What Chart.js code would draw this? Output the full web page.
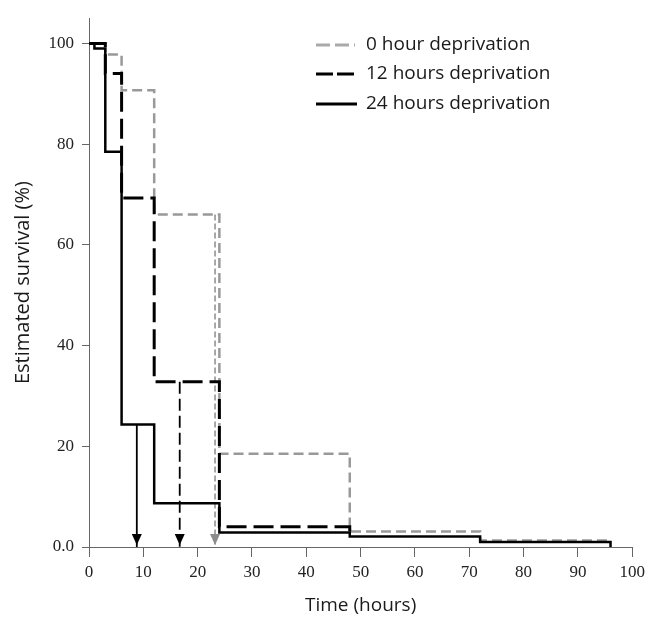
<!DOCTYPE html>
<html>
<head>
<meta charset="utf-8">
<script src="https://cdn.jsdelivr.net/npm/chart.js@4.4.1/dist/chart.umd.min.js"></script>
<style>
  body { margin: 0; background: #fff; }
  #wrap { width: 650px; height: 617px; }
</style>
</head>
<body>
<div id="wrap"><canvas id="survival" width="650" height="617"></canvas></div>
<script>
// Kaplan-Meier steps: time (hours) and estimated survival (%)
const labels = ['0 hour deprivation', '12 hours deprivation', '24 hours deprivation'];
const time0 = [0, 3, 6, 12, 24, 48, 72, 96];
const surv0 = [100, 97.8, 90.7, 66, 18.5, 3.1, 1.3, 1.3];
const time12 = [0, 3, 6, 12, 24, 48];
const surv12 = [100, 94, 69.3, 32.8, 4.0, 2.1];
const time24 = [0, 1, 3, 6, 12, 24, 48, 72, 96];
const surv24 = [100, 99, 78.5, 24.3, 8.7, 2.9, 2.1, 1.0, 0];

// median survival arrows
const medianTime = [23.2, 16.7, 8.8];
const medianFrom = [66, 32.8, 24.3];

const xTicks = [0, 10, 20, 30, 40, 50, 60, 70, 80, 90, 100];
const yTicks = [0, 20, 40, 60, 80, 100];

const styles = [
    { color: '#999999', width: 2.5, dash: [10, 5] },
    { color: '#000000', width: 3, dash: [20, 7] },
    { color: '#000000', width: 2.5, dash: [] }
];
const arrowStyles = [
    { color: '#8c8c8c', width: 1.5, dash: [6, 3] },
    { color: '#000000', width: 1.8, dash: [12, 5] },
    { color: '#000000', width: 1.8, dash: [] }
];

const pts = (xs, ys) => xs.map((x, i) => ({ x: x, y: ys[i] }));

const curves = [pts(time0, surv0), pts(time12, surv12), pts(time24, surv24)];

const datasets = curves.map((d, i) => ({
    label: labels[i],
    data: d,
    stepped: 'before',
    borderColor: styles[i].color,
    borderWidth: styles[i].width,
    borderDash: styles[i].dash,
    pointRadius: 0,
    fill: false,
    order: 3 - i
}));

medianTime.forEach((t, i) => {
    datasets.push({
        label: 'arrow',
        isArrow: true,
        data: [{ x: t, y: medianFrom[i] }, { x: t, y: 0 }],
        borderColor: arrowStyles[i].color,
        borderWidth: arrowStyles[i].width,
        borderDash: arrowStyles[i].dash,
        pointRadius: 0,
        fill: false,
        order: 5
    });
});

// arrow heads + legend
const extras = {
    id: 'extras',
    afterDatasetsDraw(chart) {
        const c = chart.ctx;
        chart.data.datasets.forEach((ds, i) => {
            if (!ds.isArrow) return;
            const p = chart.getDatasetMeta(i).data[1];
            const tip = p.y - 2;
            c.save();
            c.fillStyle = ds.borderColor;
            c.beginPath();
            c.moveTo(p.x, tip);
            c.lineTo(p.x - 5, tip - 11);
            c.lineTo(p.x + 5, tip - 11);
            c.closePath();
            c.fill();
            c.restore();
        });

        // legend
        const rows = [45, 74, 104];
        c.save();
        c.font = '19px "Open Sans"';
        c.textBaseline = 'middle';
        c.fillStyle = '#1a1a1a';
        labels.forEach((lab, i) => {
            const st = styles[i];
            c.strokeStyle = i === 0 ? '#aaaaaa' : st.color;
            c.lineWidth = 3;
            c.setLineDash(i === 0 ? [14, 5] : i === 1 ? [17, 4] : []);
            c.beginPath();
            c.moveTo(316, rows[i]);
            c.lineTo(i === 2 ? 357 : 355, rows[i]);
            c.stroke();
            c.fillText(lab, 366, rows[i]);
        });
        c.restore();
    }
};

new Chart(document.getElementById('survival'), {
    type: 'line',
    data: { datasets: datasets },
    options: {
        responsive: false,
        animation: false,
        layout: { padding: { top: 13, right: 14, left: 0, bottom: 0 } },
        plugins: { legend: { display: false }, tooltip: { enabled: false } },
        scales: {
            x: {
                type: 'linear',
                min: 0,
                max: 100,
                afterBuildTicks: s => { s.ticks = xTicks.map(v => ({ value: v })); },
                afterFit: s => { s.height = 70; },
                grid: { drawOnChartArea: false, drawTicks: true, tickLength: 10, color: '#666' },
                border: { display: true, color: '#666', width: 1 },
                ticks: {
                    color: '#222',
                    padding: 5,
                    maxRotation: 0,
                    font: { family: '"Liberation Serif"', size: 17 }
                },
                title: {
                    display: true,
                    text: 'Time (hours)',
                    color: '#1a1a1a',
                    padding: { top: 0, bottom: 0 },
                    font: { family: '"Open Sans"', size: 19 }
                }
            },
            y: {
                type: 'linear',
                min: 0,
                max: 105,
                afterBuildTicks: s => { s.ticks = yTicks.map(v => ({ value: v })); },
                afterFit: s => { s.width = 89; },
                grid: { drawOnChartArea: false, drawTicks: true, tickLength: 7, color: '#666' },
                border: { display: true, color: '#666', width: 1 },
                ticks: {
                    color: '#222',
                    padding: 8,
                    font: { family: '"Liberation Serif"', size: 17 },
                    callback: v => v === 0 ? '0.0' : String(v)
                },
                title: {
                    display: true,
                    text: 'Estimated survival (%)',
                    color: '#1a1a1a',
                    padding: { top: 11, bottom: 0 },
                    font: { family: '"Open Sans"', size: 20 }
                }
            }
        }
    },
    plugins: [extras]
});
</script>
</body>
</html>
